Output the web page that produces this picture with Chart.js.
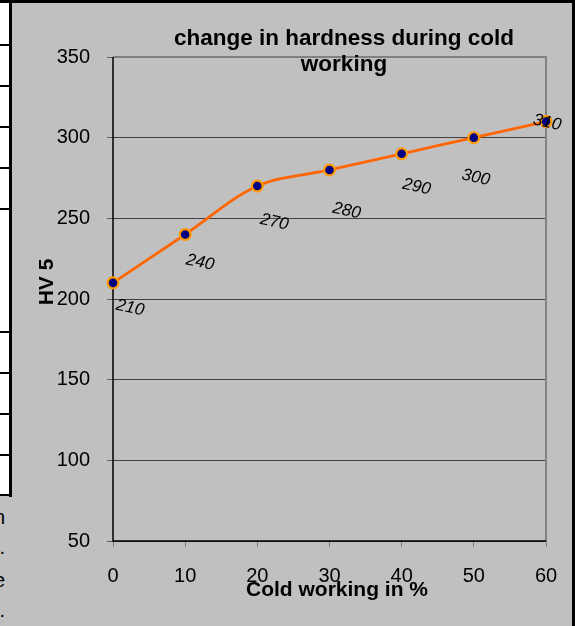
<!DOCTYPE html>
<html>
<head>
<meta charset="utf-8">
<script src="https://cdn.jsdelivr.net/npm/chart.js@4.4.1/dist/chart.umd.min.js"></script>
<style>
  html,body{margin:0;padding:0;}
  body{width:575px;height:626px;position:relative;overflow:hidden;background:#c0c0c0;font-family:"Liberation Sans",Arial,sans-serif;}
  #strip{position:absolute;left:0;top:0;width:10px;height:495px;background:#fff;}
  .vline{position:absolute;left:9px;top:0;width:3px;height:497px;background:#000;}
  .hl{position:absolute;left:0;width:11px;height:2px;background:#000;}
  #topline{position:absolute;left:0;top:0;width:575px;height:3px;background:#000;}
  #rightline{position:absolute;left:572px;top:0;width:3px;height:626px;background:#000;}
  .frag{position:absolute;left:-30px;width:35px;text-align:right;font-size:20px;color:#000;line-height:20px;}
  canvas{position:absolute;left:0;top:0;}
</style>
</head>
<body>
<div id="strip"></div>
<div class="vline"></div>
<div id="topline"></div>
<div id="rightline"></div>
<div class="frag" style="top:507px">n</div>
<div class="frag" style="top:537px">.</div>
<div class="frag" style="top:570px">e</div>
<div class="frag" style="top:600px">.</div>
<canvas id="c" width="575" height="626"></canvas>
<script>
// table row lines on the left
[44,85,126,167,208,331,372,413,454,494].forEach(y=>{
  const d=document.createElement("div"); d.className="hl"; d.style.top=y+"px"; document.body.insertBefore(d,document.getElementById("c"));
});

// data
const coldWorking = [0, 10, 20, 30, 40, 50, 60];
const hardness = [210, 240, 270, 280, 290, 300, 310];
const xTicks = [0, 10, 20, 30, 40, 50, 60];
const yTicks = [50, 100, 150, 200, 250, 300, 350];
const chartTitle = ["change in hardness during cold", "working"];
const xTitle = "Cold working in %";
const yTitle = "HV 5";

// label offsets (px) like the excel placement
const lblOff = [[17,25],[15,28],[17,36],[17,41],[15,33],[2,40],[1,1]];

const FONT = '"Liberation Sans", Arial, sans-serif';

const decor = {
  id:"decor",
  beforeDatasetsDraw(chart){
    const {ctx, chartArea:a} = chart;
    ctx.save();
    // plot border top/right
    ctx.strokeStyle="#808080"; ctx.lineWidth=2;
    ctx.beginPath(); ctx.moveTo(a.left,a.top); ctx.lineTo(a.right,a.top); ctx.lineTo(a.right,a.bottom); ctx.stroke();
    // axis lines
    ctx.strokeStyle="#000"; ctx.lineWidth=1.5;
    ctx.beginPath(); ctx.moveTo(a.left,a.top); ctx.lineTo(a.left,a.bottom); ctx.lineTo(a.right,a.bottom); ctx.stroke();
    ctx.restore();
  },
  afterDraw(chart){
    const {ctx} = chart;
    ctx.save();
    ctx.fillStyle="#000";
    ctx.font="bold 22.5px "+FONT; ctx.textAlign="center"; ctx.textBaseline="alphabetic";
    ctx.fillText(chartTitle[0],344,45);
    ctx.fillText(chartTitle[1],344,71);
    ctx.font="bold 21px "+FONT;
    ctx.fillText(xTitle,337,596);
    ctx.translate(52.5,282); ctx.rotate(-Math.PI/2);
    ctx.fillText(yTitle,0,0);
    ctx.restore();
    // data labels
    const meta = chart.getDatasetMeta(0);
    ctx.save();
    ctx.font="italic 17px "+FONT; ctx.fillStyle="#000"; ctx.textAlign="center"; ctx.textBaseline="middle";
    meta.data.forEach((p,i)=>{
      ctx.save();
      ctx.translate(p.x+lblOff[i][0], p.y+lblOff[i][1]);
      ctx.rotate(12*Math.PI/180);
      ctx.fillText(String(hardness[i]),0,0);
      ctx.restore();
    });
    ctx.restore();
  }
};

new Chart(document.getElementById("c"),{
  type:"line",
  data:{
    labels:coldWorking,
    datasets:[{
      data:coldWorking.map((x,i)=>({x, y:hardness[i]})),
      borderColor:"#ff6600", borderWidth:2.8,
      pointBackgroundColor:"#000080", pointBorderColor:"#ff9900",
      pointRadius:5.4, pointBorderWidth:2.2,
      tension:0.33, fill:false, clip:false
    }]
  },
  options:{
    responsive:false, animation:false, devicePixelRatio:1,
    layout:{padding:{top:57,right:29,left:0,bottom:0}},
    plugins:{legend:{display:false}, title:{display:false}, tooltip:{enabled:false}},
    scales:{
      x:{
        type:"linear", min:0, max:60,
        afterBuildTicks(s){ s.ticks = xTicks.map(v=>({value:v})); },
        afterFit(s){ s.height=85; },
        grid:{drawOnChartArea:false, tickLength:6, tickColor:"#808080"},
        border:{display:false},
        ticks:{color:"#000", font:{family:FONT,size:20}, padding:17, maxRotation:0, autoSkip:false}
      },
      y:{
        min:50, max:350,
        afterBuildTicks(s){ s.ticks = yTicks.map(v=>({value:v})); },
        afterFit(s){ s.width=113; },
        grid:{color:"#404040", lineWidth:1, tickLength:6, tickColor:"#606060"},
        border:{display:false},
        ticks:{color:"#000", font:{family:FONT,size:20}, padding:17, autoSkip:false}
      }
    }
  },
  plugins:[decor]
});
</script>
</body>
</html>
